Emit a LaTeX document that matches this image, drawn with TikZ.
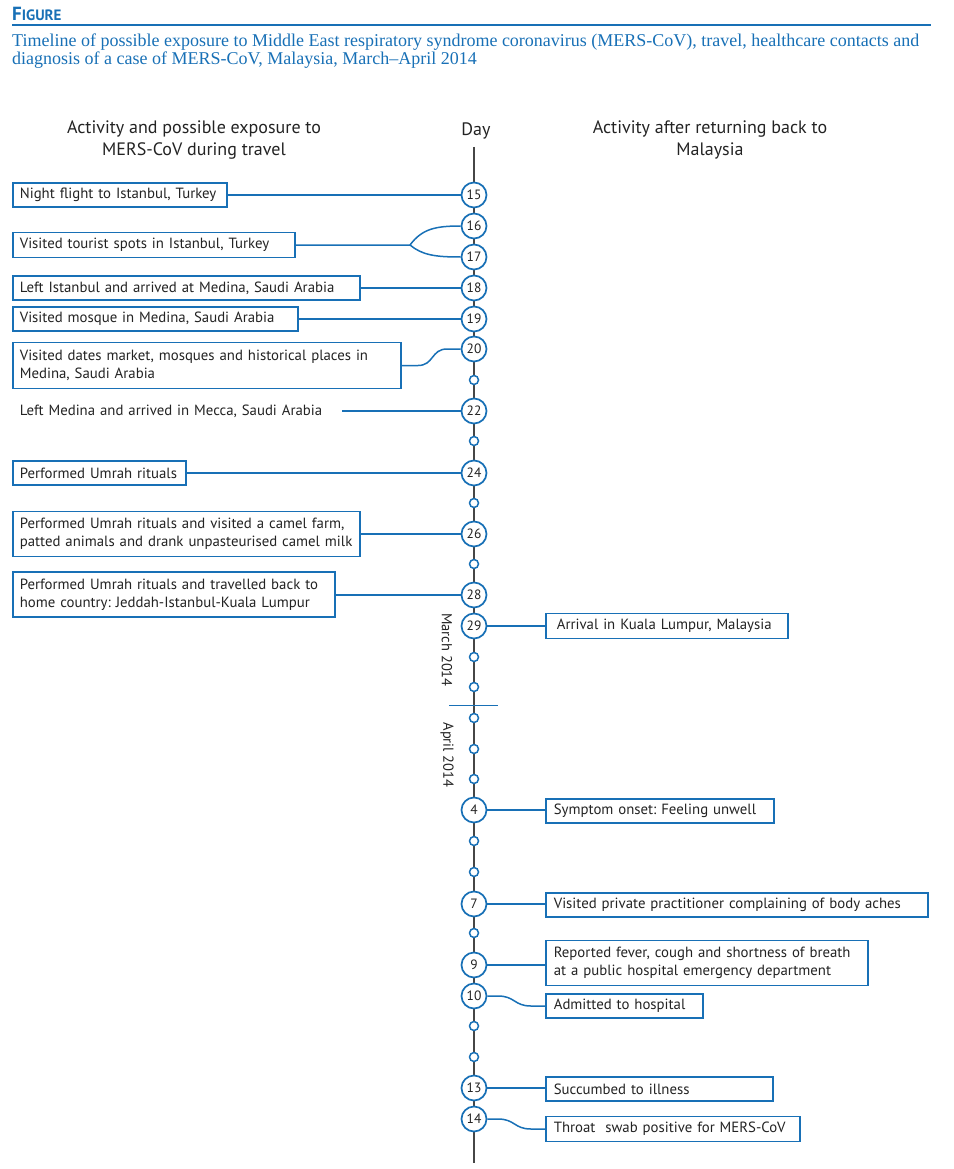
\documentclass[tikz,border=0pt]{standalone}
\usepackage{fontspec}
\setmainfont{PT Sans}
\newfontfamily\capfont{Liberation Serif}
\frenchspacing
\definecolor{eblue}{RGB}{24,112,182}
\definecolor{axisgray}{RGB}{70,70,70}
\definecolor{txt}{RGB}{35,35,35}
\tikzset{
  body/.style={font=\fontsize{14.8}{18}\selectfont, text=txt},
  lbox/.style={body, draw=eblue, line width=1.7pt, fill=white, inner xsep=7pt, inner ysep=0pt, align=left, anchor=west},
  rbox/.style={lbox, inner xsep=8pt},
  conn/.style={draw=eblue, line width=1.5pt},
  axisline/.style={draw=axisgray, line width=2pt},
  daynode/.style={circle, draw=eblue, line width=1.7pt, fill=white, minimum size=25pt, inner sep=0pt, font=\fontsize{13.5}{13.5}\selectfont, text=txt},
  ticknode/.style={circle, draw=eblue, line width=1.5pt, fill=white, minimum size=9pt, inner sep=0pt},
  head/.style={font=\fontsize{18}{22}\selectfont, text=txt, align=center},
  monthlbl/.style={font=\fontsize{14.5}{14.5}\selectfont, text=txt, rotate=-90},
  captxt/.style={font=\capfont\fontsize{18}{18}\selectfont, text=eblue, anchor=base west, inner sep=0pt}
}
\begin{document}
\begin{tikzpicture}[x=1pt, y=-1pt]
\useasboundingbox (0,0) rectangle (953,1169);
% title
\node[anchor=base west, inner sep=0pt, text=eblue, font=\bfseries] (figtitle) at (12,21) {{\fontsize{19}{19}\selectfont F}{\fontsize{15}{15}\selectfont IGURE}};
\draw[draw=eblue, line width=2pt] (12,25) -- (931,25);
\node[captxt] (cap1) at (12,47) {Timeline of possible exposure to Middle East respiratory syndrome coronavirus (MERS-CoV), travel, healthcare contacts and};
\node[captxt] (cap2) at (12,65) {diagnosis of a case of MERS-CoV, Malaysia, March–April 2014};
% headers
\node[head] (hleft) at (194,140) {Activity and possible exposure to\\MERS-CoV during travel};
\node[head] (hday) at (476,131) {Day};
\node[head] (hright) at (710,140) {Activity after returning back to\\Malaysia};
% axis
\coordinate (axtop) at (474,147);
\coordinate (axbot) at (474,1163);
\draw[axisline] (axtop) -- (axbot);
% month divider
\coordinate (divl) at (449,705);
\coordinate (divr) at (498,705);
\draw[draw=eblue, line width=1pt] (divl) -- (divr);
\node[monthlbl] (march) at (447,650) {March 2014};
\node[monthlbl] (april) at (447,755) {April 2014};
% day circles
\node[daynode] (d15) at (474,195) {15};
\node[daynode] (d16) at (474,226) {16};
\node[daynode] (d17) at (474,257) {17};
\node[daynode] (d18) at (474,288) {18};
\node[daynode] (d19) at (474,319) {19};
\node[daynode] (d20) at (474,349) {20};
\node[ticknode] (t21) at (474,380) {};
\node[daynode] (d22) at (474,411) {22};
\node[ticknode] (t23) at (474,441) {};
\node[daynode] (d24) at (474,473) {24};
\node[ticknode] (t25) at (474,503) {};
\node[daynode] (d26) at (474,534) {26};
\node[ticknode] (t27) at (474,564) {};
\node[daynode] (d28) at (474,595) {28};
\node[daynode] (d29) at (474,626) {29};
\node[ticknode] (t30) at (474,657) {};
\node[ticknode] (t31) at (474,687) {};
\node[ticknode] (a1) at (474,718) {};
\node[ticknode] (a2) at (474,749) {};
\node[ticknode] (a3) at (474,779) {};
\node[daynode] (a4) at (474,810) {4};
\node[ticknode] (a5) at (474,841) {};
\node[ticknode] (a6) at (474,872) {};
\node[daynode] (a7) at (474,904) {7};
\node[ticknode] (a8) at (474,933) {};
\node[daynode] (a9) at (474,965) {9};
\node[daynode] (a10) at (474,996) {10};
\node[ticknode] (a11) at (474,1026) {};
\node[ticknode] (a12) at (474,1057) {};
\node[daynode] (a13) at (474,1088) {13};
\node[daynode] (a14) at (474,1119) {14};
% left boxes
\node[lbox, text width=200pt, minimum height=24pt] (b15) at (12,195) {\mbox{Night flight to Istanbul, Turkey}};
\node[lbox, text width=268pt, minimum height=25pt] (b16) at (12,245) {\mbox{Visited tourist spots in Istanbul, Turkey}};
\node[lbox, text width=333pt, minimum height=24pt] (b18) at (12,288) {\mbox{Left Istanbul and arrived at Medina, Saudi Arabia}};
\node[lbox, text width=271pt, minimum height=24pt] (b19) at (12,319) {\mbox{Visited mosque in Medina, Saudi Arabia}};
\node[lbox, text width=374pt, minimum height=46pt] (b20) at (12,365.5) {\mbox{Visited dates market, mosques and historical places in}\\\mbox{Medina, Saudi Arabia}};
\node[lbox, draw=none, fill=none, text width=316pt, minimum height=24pt] (b22) at (12,411) {\mbox{Left Medina and arrived in Mecca, Saudi Arabia}};
\node[lbox, text width=159pt, minimum height=24pt] (b24) at (12,473) {\mbox{Performed Umrah rituals}};
\node[lbox, text width=333pt, minimum height=45pt] (b26) at (12,534) {\mbox{Performed Umrah rituals and visited a camel farm,}\\\mbox{patted animals and drank unpasteurised camel milk}};
\node[lbox, text width=308pt, minimum height=45pt] (b28) at (12,594.5) {\mbox{Performed Umrah rituals and travelled back to}\\\mbox{home country: Jeddah-Istanbul-Kuala Lumpur}};
% right boxes
\node[rbox, inner xsep=11pt, text width=220pt, minimum height=25pt] (r29) at (545,626) {\mbox{Arrival in Kuala Lumpur, Malaysia}};
\node[rbox, text width=212pt, minimum height=24pt] (r4) at (545,811) {\mbox{Symptom onset: Feeling unwell}};
\node[rbox, text width=366pt, minimum height=24pt] (r7) at (545,905) {\mbox{Visited private practitioner complaining of body aches}};
\node[rbox, text width=306pt, minimum height=45pt] (r9) at (545,963) {\mbox{Reported fever, cough and shortness of breath}\\\mbox{at a public hospital emergency department}};
\node[rbox, text width=141pt, minimum height=24pt] (r10) at (545,1006) {\mbox{Admitted to hospital}};
\node[rbox, text width=211pt, minimum height=24pt] (r13) at (545,1089) {\mbox{Succumbed to illness}};
\node[rbox, text width=238pt, minimum height=25pt] (r14) at (545,1129) {\mbox{Throat\ \ swab positive for MERS-CoV}};
% connectors left
\draw[conn] (d15.west) -- (d15.west -| b15.east);
\coordinate (fork) at (410,245);
\draw[conn] (b16.east) -- (fork) .. controls (422,229) and (435,226) .. (d16.west);
\draw[conn] (fork) .. controls (422,255) and (435,257) .. (d17.west);
\draw[conn] (d18.west) -- (d18.west -| b18.east);
\draw[conn] (d19.west) -- (d19.west -| b19.east);
\coordinate (c20a) at (418,365.5);
\coordinate (c20b) at (447,349);
\draw[conn] (b20.east) -- (c20a) .. controls (434,365.5) and (431,349) .. (c20b) -- (d20.west);
\coordinate (c22) at (342,411);
\draw[conn] (c22) -- (d22.west);
\draw[conn] (d24.west) -- (d24.west -| b24.east);
\draw[conn] (d26.west) -- (d26.west -| b26.east);
\draw[conn] (d28.west) -- (d28.west -| b28.east);
% connectors right
\draw[conn] (d29.east) -- (d29.east -| r29.west);
\draw[conn] (a4.east) -- (a4.east -| r4.west);
\draw[conn] (a7.east) -- (a7.east -| r7.west);
\draw[conn] (a9.east) -- (a9.east -| r9.west);
\coordinate (c10a) at (498,996);
\coordinate (c10b) at (531,1006);
\draw[conn] (a10.east) -- (c10a) .. controls (515,996) and (514,1006) .. (c10b) -- (r10.west);
\draw[conn] (a13.east) -- (a13.east -| r13.west);
\coordinate (c14a) at (498,1119);
\coordinate (c14b) at (531,1129);
\draw[conn] (a14.east) -- (c14a) .. controls (515,1119) and (514,1129) .. (c14b) -- (r14.west);
\end{tikzpicture}
\end{document}
